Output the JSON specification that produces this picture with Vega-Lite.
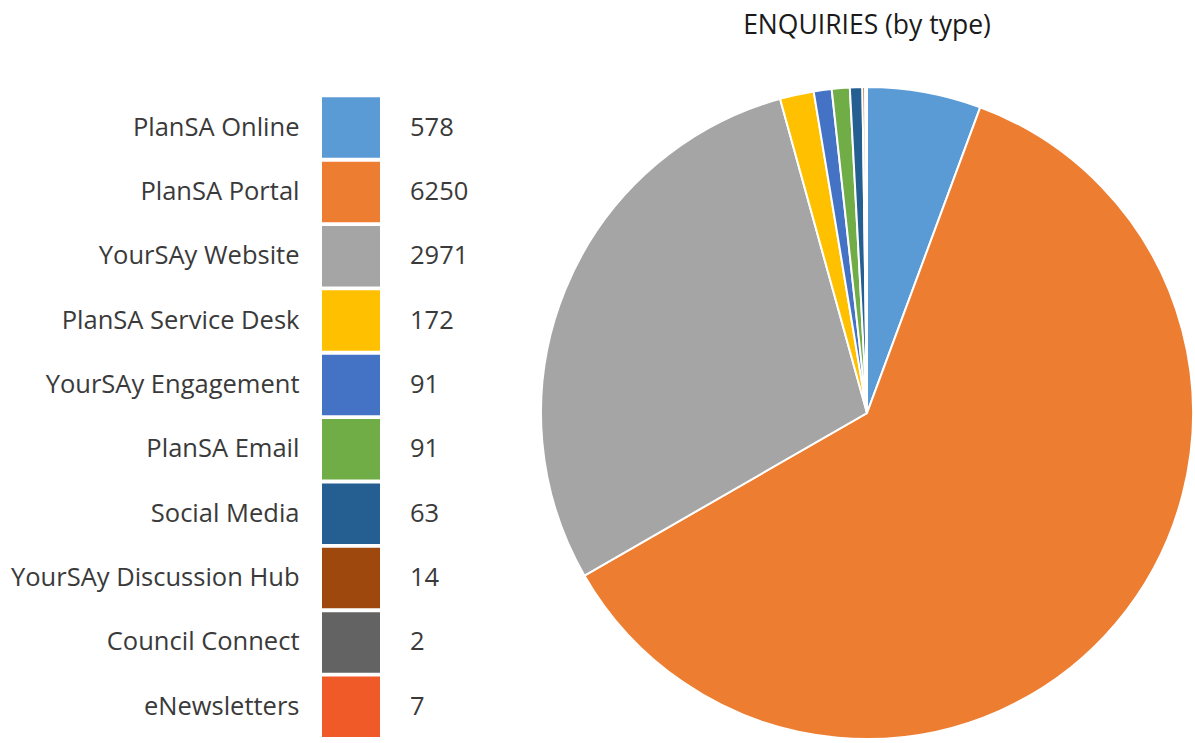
{
  "$schema": "https://vega.github.io/schema/vega-lite/v6.json",
  "background": "white",
  "padding": {"left": 10, "top": 12, "right": 0, "bottom": 0},
  "config": {"view": {"stroke": null}, "font": "Open Sans"},
  "data": {
    "values": [
      {"idx": 1, "type": "PlanSA Online", "count": 578},
      {"idx": 2, "type": "PlanSA Portal", "count": 6250},
      {"idx": 3, "type": "YourSAy Website", "count": 2971},
      {"idx": 4, "type": "PlanSA Service Desk", "count": 172},
      {"idx": 5, "type": "YourSAy Engagement", "count": 91},
      {"idx": 6, "type": "PlanSA Email", "count": 91},
      {"idx": 7, "type": "Social Media", "count": 63},
      {"idx": 8, "type": "YourSAy Discussion Hub", "count": 14},
      {"idx": 9, "type": "Council Connect", "count": 2},
      {"idx": 10, "type": "eNewsletters", "count": 7}
    ]
  },
  "spacing": 68,
  "hconcat": [
    {
      "width": 58,
      "height": 650,
      "encoding": {
        "y": {
          "field": "type",
          "type": "nominal",
          "sort": ["PlanSA Online", "PlanSA Portal", "YourSAy Website", "PlanSA Service Desk", "YourSAy Engagement", "PlanSA Email", "Social Media", "YourSAy Discussion Hub", "Council Connect", "eNewsletters"],
          "scale": {"paddingInner": 0.06, "paddingOuter": 0.08, "align": 1},
          "axis": {"title": null, "domain": false, "ticks": false, "labelPadding": 23, "labelFontSize": 25.5, "labelColor": "#3a3a3a", "labelLimit": 500}
        }
      },
      "layer": [
        {
          "mark": {"type": "rect"},
          "encoding": {
            "color": {
              "field": "type",
              "type": "nominal",
              "legend": null,
              "scale": {
                "domain": ["PlanSA Online", "PlanSA Portal", "YourSAy Website", "PlanSA Service Desk", "YourSAy Engagement", "PlanSA Email", "Social Media", "YourSAy Discussion Hub", "Council Connect", "eNewsletters"],
                "range": ["#5B9BD5", "#ED7D31", "#A5A5A5", "#FFC000", "#4472C4", "#70AD47", "#255E91", "#9E480E", "#636363", "#EF5A28"]
              }
            }
          }
        },
        {
          "mark": {"type": "text", "align": "left", "baseline": "middle", "dx": 59, "fontSize": 25.5, "color": "#3a3a3a"},
          "encoding": {"text": {"field": "count", "type": "quantitative"}}
        }
      ]
    },
    {
      "width": 652,
      "height": 652,
      "title": {"text": "ENQUIRIES (by type)", "fontSize": 26.5, "fontWeight": "normal", "color": "#1a1a1a", "offset": 44},
      "mark": {"type": "arc", "stroke": "white", "strokeWidth": 2},
      "encoding": {
        "theta": {"field": "count", "type": "quantitative", "stack": true},
        "order": {"field": "idx", "type": "quantitative"},
        "color": {
          "field": "type",
          "type": "nominal",
          "legend": null,
          "scale": {
            "domain": ["PlanSA Online", "PlanSA Portal", "YourSAy Website", "PlanSA Service Desk", "YourSAy Engagement", "PlanSA Email", "Social Media", "YourSAy Discussion Hub", "Council Connect", "eNewsletters"],
            "range": ["#5B9BD5", "#ED7D31", "#A5A5A5", "#FFC000", "#4472C4", "#70AD47", "#255E91", "#9E480E", "#636363", "#EF5A28"]
          }
        }
      }
    }
  ]
}
